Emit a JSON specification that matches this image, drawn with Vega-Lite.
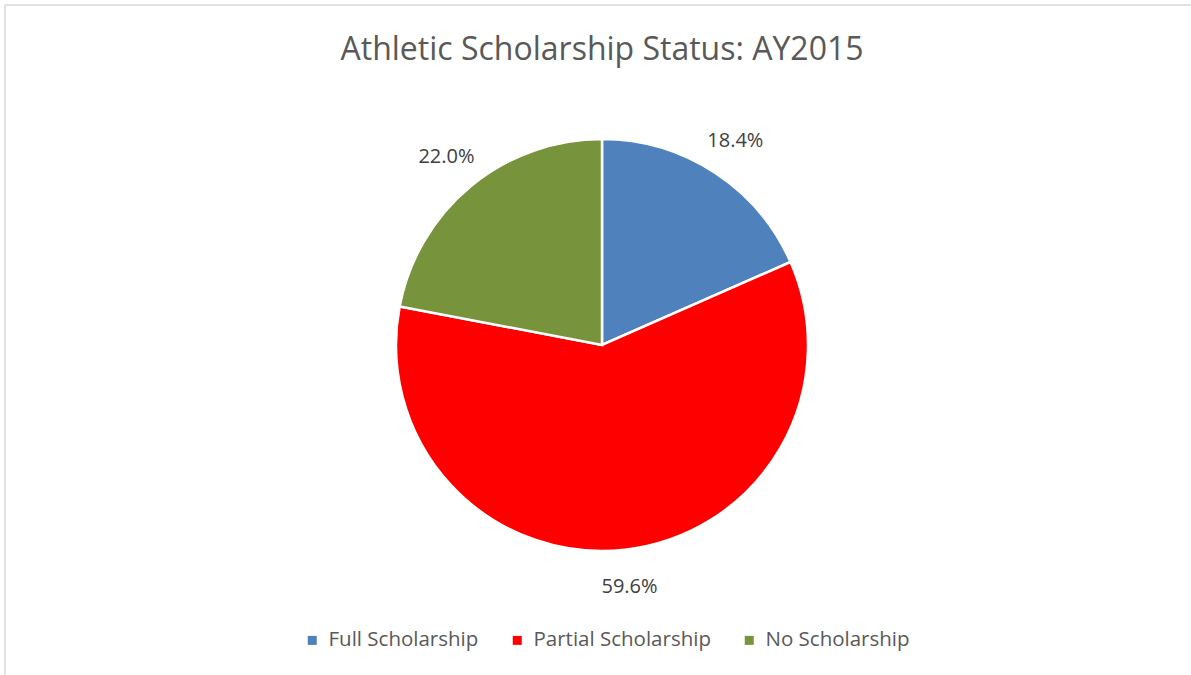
{
  "$schema": "https://vega.github.io/schema/vega-lite/v6.json",
  "width": 1194,
  "height": 680,
  "autosize": {"type": "none"},
  "padding": {"left": 5, "top": 5, "right": 0, "bottom": 0},
  "background": "white",
  "config": {
    "view": {"stroke": null},
    "font": "Open Sans"
  },
  "title": {
    "text": "Athletic Scholarship Status: AY2015",
    "font": "Open Sans",
    "fontSize": 32,
    "fontWeight": "normal",
    "color": "#595959",
    "anchor": "middle",
    "offset": -88,
    "baseline": "alphabetic"
  },
  "data": {
    "values": [
      {"status": "Full Scholarship", "share": 18.4, "order": 1, "label": "18.4%"},
      {"status": "Partial Scholarship", "share": 59.6, "order": 2, "label": "59.6%"},
      {"status": "No Scholarship", "share": 22.0, "order": 3, "label": "22.0%"}
    ]
  },
  "layer": [
    {
      "data": {"values": [{"frame": 1}]},
      "mark": {"type": "rect", "fill": null, "stroke": "#d9d9d9", "strokeWidth": 1.5},
      "encoding": {}
    },
    {
      "mark": {"type": "arc", "outerRadius": 206, "stroke": "white", "strokeWidth": 2.5},
      "encoding": {
        "theta": {"field": "share", "type": "quantitative", "stack": true},
        "order": {"field": "order", "type": "quantitative"},
        "color": {
          "field": "status",
          "type": "nominal",
          "sort": ["Full Scholarship", "Partial Scholarship", "No Scholarship"],
          "scale": {
            "domain": ["Full Scholarship", "Partial Scholarship", "No Scholarship"],
            "range": ["#4f81bd", "#ff0000", "#77933c"]
          },
          "legend": {
            "title": null,
            "orient": "none",
            "direction": "horizontal",
            "legendX": 297,
            "legendY": 625,
            "symbolType": "square",
            "symbolSize": 81,
            "symbolStrokeWidth": 0,
            "labelFontSize": 20.5,
            "labelFont": "Open Sans",
            "labelColor": "#595959",
            "labelLimit": 400,
            "columnPadding": 28,
            "labelOffset": 6
          }
        }
      }
    },
    {
      "mark": {"type": "text", "radius": 244, "fontSize": 20, "font": "Open Sans", "fill": "#404040"},
      "encoding": {
        "theta": {"field": "share", "type": "quantitative", "stack": true},
        "order": {"field": "order", "type": "quantitative"},
        "text": {"field": "label", "type": "nominal"}
      }
    }
  ]
}
